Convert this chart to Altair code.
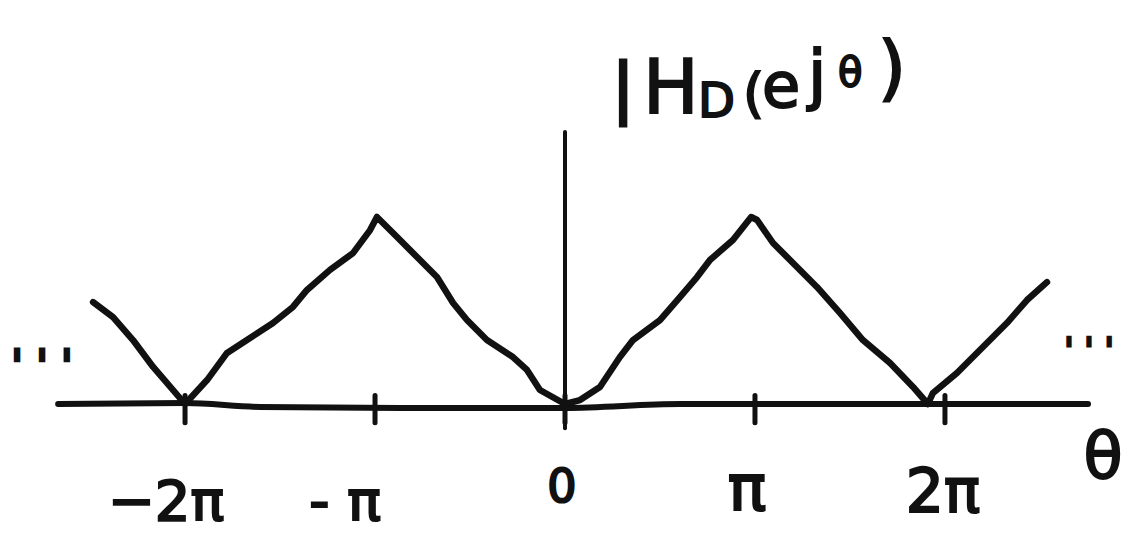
import altair as alt
import pandas as pd

# Sketch of |H_D(e^{jθ})|: θ in multiples of π, magnitude scaled so the peaks are 1
theta_pi = [-2.484, -2.379, -2.274, -2.168, -2.0,
            -1.884, -1.779, -1.674, -1.537, -1.432, -1.358, -1.237, -1.116, -1.026, -0.99,
            -0.884, -0.779, -0.674, -0.589, -0.516, -0.411, -0.274, -0.2, -0.132, 0.0,
            0.079, 0.184, 0.289, 0.358, 0.5, 0.605, 0.695, 0.763, 0.884, 0.98,
            1.011, 1.095, 1.2, 1.326, 1.447, 1.568, 1.711, 1.832, 1.91,
            1.937, 2.063, 2.2, 2.326, 2.432, 2.537]
magnitude = [0.545, 0.465, 0.342, 0.198, 0.0,
             0.128, 0.273, 0.342, 0.433, 0.519, 0.610, 0.717, 0.807, 0.930, 1.0,
             0.893, 0.786, 0.679, 0.540, 0.449, 0.342, 0.251, 0.182, 0.075, 0.0,
             0.021, 0.091, 0.251, 0.342, 0.449, 0.572, 0.679, 0.770, 0.877, 1.0,
             0.984, 0.861, 0.754, 0.626, 0.487, 0.342, 0.219, 0.091, 0.0,
             0.059, 0.166, 0.305, 0.433, 0.556, 0.652]

# hand-drawn θ axis (slightly wavy)
axis_theta = [-2.668, -2.0, -1.605, -0.868, 0.0, 0.605, 2.753]
axis_level = [0.0, 0.005, -0.016, -0.021, -0.021, 0.0, 0.0]

tick_values = [-2, -1, 0, 1, 2]
tick_labels = ["\u22122\u03c0", "- \u03c0", "0", "\u03c0", "2\u03c0"]

W, H = 1130, 534
INK = "#111111"
FONT = "DejaVu Sans"


def xq(field="theta"):
    return alt.X(f"{field}:Q", axis=None,
                 scale=alt.Scale(domain=[-2.974, 2.974], nice=False, zero=False))


def yq(field="mag"):
    return alt.Y(f"{field}:Q", axis=None,
                 scale=alt.Scale(domain=[-0.6952, 2.1604], nice=False, zero=False))


curve = alt.Chart(pd.DataFrame({"theta": theta_pi, "mag": magnitude})).mark_line(
    color=INK, strokeWidth=6.5, strokeCap="round", strokeJoin="round"
).encode(x=xq(), y=yq())

h_axis = alt.Chart(pd.DataFrame({"theta": axis_theta, "mag": axis_level})).mark_line(
    color=INK, strokeWidth=6, strokeCap="round", interpolate="monotone"
).encode(x=xq(), y=yq())

v_axis = alt.Chart(pd.DataFrame({"theta": [0.0], "lo": [-0.13], "hi": [1.455]})).mark_rule(
    color=INK, strokeWidth=4, strokeCap="round"
).encode(x=xq(), y=yq("lo"), y2=alt.Y2("hi:Q"))

ticks = alt.Chart(pd.DataFrame({
    "theta": tick_values, "lo": [-0.1] * len(tick_values), "hi": [0.045] * len(tick_values)
})).mark_rule(color=INK, strokeWidth=5, strokeCap="round").encode(
    x=xq(), y=yq("lo"), y2=alt.Y2("hi:Q")
)

# tick labels, each nudged like the hand lettering
label_style = [
    dict(dx=-19, size=56, base=520),
    dict(dx=-30, size=56, base=520),
    dict(dx=-3, size=46, base=502),
    dict(dx=-8, size=64, base=510),
    dict(dx=-2, size=60, base=512),
]
label_layers = []
for val, lab, st in zip(tick_values, tick_labels, label_style):
    label_layers.append(
        alt.Chart(pd.DataFrame({"theta": [val], "label": [lab]})).mark_text(
            font=FONT, fontSize=st["size"], color=INK, stroke=INK, strokeWidth=2.2,
            align="center", baseline="alphabetic", dx=st["dx"],
        ).encode(x=xq(), y=alt.value(st["base"]), text=alt.Text("label:N"))
    )


def note(txt, x, y, size, align="left", weight=2.0):
    return alt.Chart(pd.DataFrame({"t": [txt]})).mark_text(
        font=FONT, fontSize=size, color=INK, stroke=INK, strokeWidth=weight,
        align=align, baseline="alphabetic",
    ).encode(x=alt.value(x), y=alt.value(y), text=alt.Text("t:N"))


# |H_D(e^{jθ}) written above the magnitude axis
title_parts = [
    note("|", 623, 110, 66, align="center", weight=3),
    note("H", 643, 113, 74),
    note("D", 698, 117, 48),
    note("(", 743, 112, 54),
    note("e", 762, 107, 62),
    note("j", 808, 97, 66),
    note("\u03b8", 838, 86, 40),
    note(")", 878, 92, 72),
]

extras = [
    note("\u03b8", 1103, 478, 64, align="center"),
    note("' ' '", 42, 380, 42, align="center", weight=3),
    note("' ' '", 1089, 362, 34, align="center", weight=2.5),
]

chart = alt.layer(
    h_axis, v_axis, ticks, curve, *label_layers, *title_parts, *extras
).properties(
    width=W, height=H, autosize=alt.AutoSizeParams(type="none"), padding=0,
    background="white",
).configure_view(stroke=None)

chart.save("out.html", embed_options={"renderer": "svg", "actions": False})
